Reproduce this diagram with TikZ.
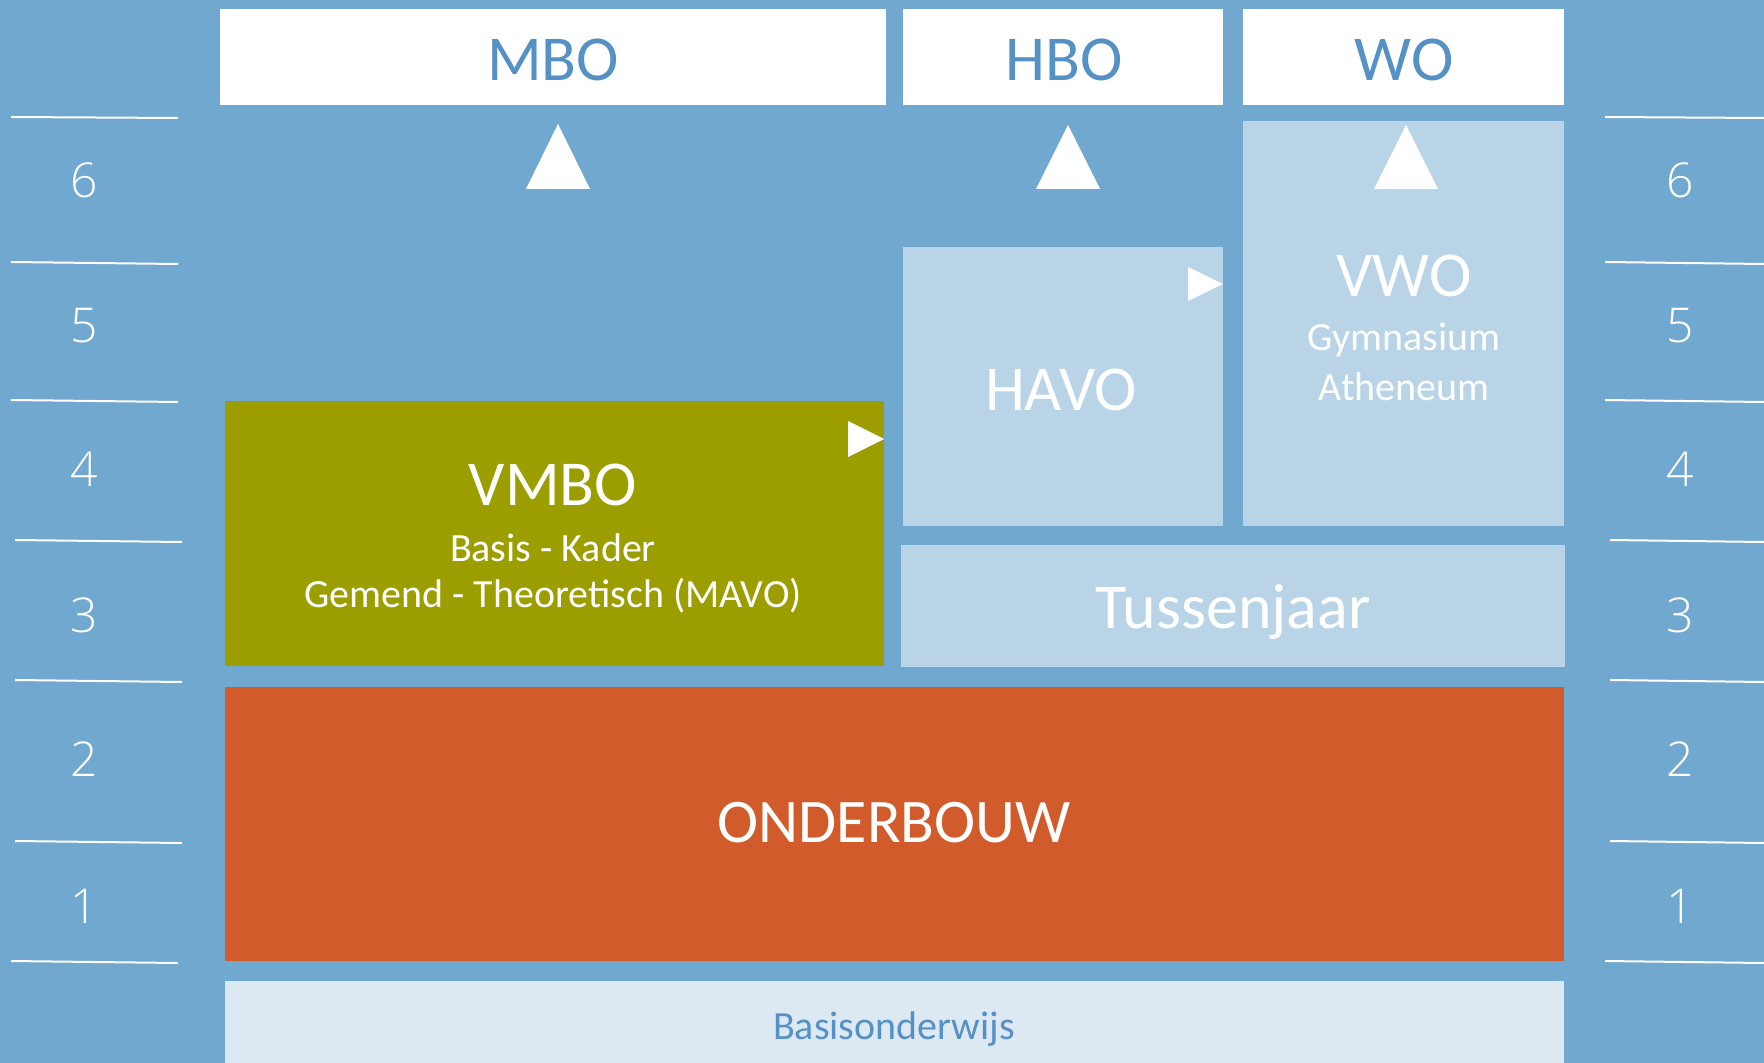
\documentclass[tikz,border=0pt]{standalone}
\usepackage{fontspec}
\setmainfont{Carlito}
\IfFontExistsTF{Open Sans Light}{\newfontfamily\numfont{Open Sans Light}}{%
  \IfFontExistsTF{Noto Sans Light}{\newfontfamily\numfont{Noto Sans Light}}{%
    \newfontfamily\numfont{Carlito}}}
\definecolor{bgblue}{HTML}{71A8CF}
\definecolor{lightbox}{HTML}{B8D4E6}
\definecolor{palebox}{HTML}{DCE9F2}
\definecolor{olivebox}{HTML}{9C9E00}
\definecolor{orangebox}{HTML}{D25B2C}
\definecolor{txtblue}{HTML}{5591C4}
\begin{document}
\begin{tikzpicture}[x=0.5pt,y=-0.5pt,
  box/.style={draw=none, inner sep=0pt, outer sep=0pt, anchor=north west},
  bigtxt/.style={inner sep=0pt, font=\fontsize{32}{38}\selectfont},
  smalltxt/.style={inner sep=0pt, font=\fontsize{20}{24}\selectfont},
  numtxt/.style={inner sep=0pt, text=white, font=\numfont\fontsize{24}{30}\selectfont},
  tick/.style={draw=white, line width=1pt},
  tri/.style={fill=white}]
\fill[bgblue] (0,0) rectangle (1764,1063);
\useasboundingbox (0,0) rectangle (1764,1063);
% top boxes
\node[box, fill=white, minimum width=333pt, minimum height=48pt] (mbo) at (220,9) {};
\node[box, fill=white, minimum width=160pt, minimum height=48pt] (hbo) at (903,9) {};
\node[box, fill=white, minimum width=160.5pt, minimum height=48pt] (wo) at (1243,9) {};
\node[bigtxt, text=txtblue] (mbotxt) at (553,60) {MBO};
\node[bigtxt, text=txtblue] (hbotxt) at (1064,60) {HBO};
\node[bigtxt, text=txtblue] (wotxt) at (1404,60) {WO};
% VWO and HAVO
\node[box, fill=lightbox, minimum width=160.5pt, minimum height=202.5pt] (vwo) at (1243,121) {};
\node[box, fill=lightbox, minimum width=160pt, minimum height=139.5pt] (havo) at (903,247) {};
\node[bigtxt, text=white] (vwotxt) at (1404,276) {VWO};
\node[smalltxt, text=white] (gym) at (1404,340) {Gymnasium};
\node[smalltxt, text=white] (ath) at (1404,387) {Atheneum};
\node[bigtxt, text=white] (havotxt) at (1061,390) {HAVO};
% VMBO
\node[box, fill=olivebox, minimum width=329.5pt, minimum height=132.5pt] (vmbo) at (225,401) {};
\node[bigtxt, text=white] (vmbotxt) at (553,485) {VMBO};
\node[smalltxt, text=white] (bk) at (553,548) {Basis - Kader};
\node[smalltxt, text=white] (gt) at (553,596) {Gemend - Theoretisch (MAVO)};
% Tussenjaar
\node[box, fill=lightbox, minimum width=332pt, minimum height=61pt] (tus) at (901,545) {};
\node[bigtxt, text=white] (tustxt) at (1233,612) {Tussenjaar};
% Onderbouw
\node[box, fill=orangebox, minimum width=669.5pt, minimum height=137pt] (ob) at (225,687) {};
\node[bigtxt, text=white, font=\fontsize{31}{36}\selectfont] (obtxt) at (894,823) {ONDERBOUW};
% Basisonderwijs
\node[box, fill=palebox, minimum width=669.5pt, minimum height=45pt] (bo) at (225,981) {};
\node[smalltxt, text=txtblue] (botxt) at (894,1029) {Basisonderwijs};
% triangles
\fill[tri] (558,124) -- (590,189) -- (526,189) -- cycle;
\fill[tri] (1068,125) -- (1100,189) -- (1036,189) -- cycle;
\fill[tri] (1406,125) -- (1438,189) -- (1374,189) -- cycle;
\fill[tri] (1223,284) -- (1188,267) -- (1188,301) -- cycle;
\fill[tri] (884,439) -- (848,421) -- (848,457) -- cycle;
% left scale
\draw[tick] (11,117) -- (178,118);
\draw[tick] (11,262) -- (178,264);
\draw[tick] (11,400) -- (178,402);
\draw[tick] (15,540) -- (182,542);
\draw[tick] (15,680) -- (182,682);
\draw[tick] (15,841) -- (182,843);
\draw[tick] (11,961) -- (178,963);
% right scale
\draw[tick] (1605,117) -- (1764,118);
\draw[tick] (1605,262) -- (1764,264);
\draw[tick] (1605,400) -- (1764,402);
\draw[tick] (1610,540) -- (1764,542);
\draw[tick] (1610,680) -- (1764,682);
\draw[tick] (1610,841) -- (1764,843);
\draw[tick] (1605,961) -- (1764,963);
\foreach \n/\y in {6/180,5/326,4/469,3/615,2/759,1/906}{
  \node[numtxt] (l\n) at (84,\y) {\n};
  \node[numtxt] (r\n) at (1680,\y) {\n};
}
\end{tikzpicture}
\end{document}
